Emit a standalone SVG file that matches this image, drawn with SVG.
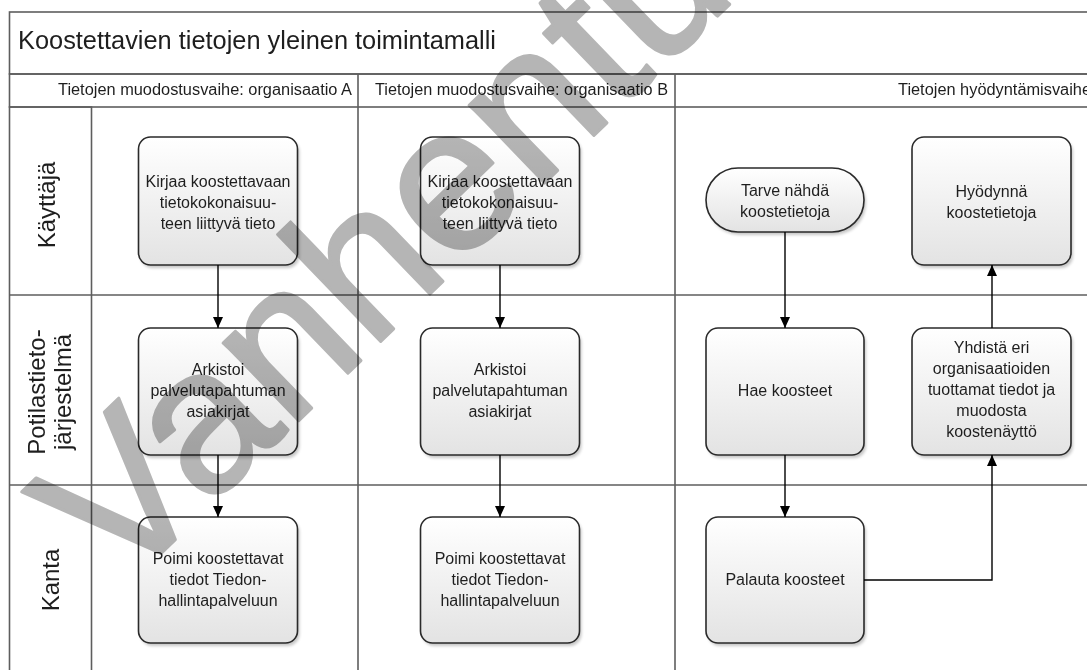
<svg xmlns="http://www.w3.org/2000/svg" width="1087" height="670" viewBox="0 0 1087 670">
<defs>
<linearGradient id="gBox" x1="0" y1="0" x2="0" y2="1">
<stop offset="0" stop-color="#ffffff"/>
<stop offset="1" stop-color="#e3e3e3"/>
</linearGradient>
<linearGradient id="gBar" x1="0" y1="0" x2="0" y2="1">
<stop offset="0" stop-color="#fbfbfb"/>
<stop offset="1" stop-color="#e9e9e9"/>
</linearGradient>
<linearGradient id="gLane" x1="0" y1="0" x2="1" y2="0">
<stop offset="0" stop-color="#ececec"/>
<stop offset="0.5" stop-color="#fbfbfb"/>
<stop offset="1" stop-color="#efefef"/>
</linearGradient>
<filter id="sh" x="-10%" y="-10%" width="130%" height="130%">
<feGaussianBlur stdDeviation="1.5"/>
</filter>
<marker id="arr" viewBox="0 0 11 10" refX="11" refY="5" markerWidth="11" markerHeight="10" markerUnits="userSpaceOnUse" orient="auto">
<path d="M0,0 L11,5 L0,10 z" fill="#000"/>
</marker>
</defs>
<style>
.lane{stroke:#5e5e5e;stroke-width:1.6;fill:none}
.t{font-family:"Liberation Sans",Arial,sans-serif;fill:#1e1e1e}
.bt{font-family:"Liberation Sans",Arial,sans-serif;font-size:16px;fill:#1e1e1e;text-anchor:middle}
.lbl{font-family:"Liberation Sans",Arial,sans-serif;font-size:24px;fill:#1e1e1e;text-anchor:middle}
.box{fill:url(#gBox);stroke:#2a2a2a;stroke-width:1.6}
.shd{fill:#000;opacity:0.22;filter:url(#sh)}
.con{stroke:#000;stroke-width:1.4;fill:none}
.wm{font-family:"Liberation Sans",Arial,sans-serif;font-size:205px;fill:#b5b5b5;stroke:#b5b5b5;stroke-width:3;stroke-linejoin:round;mix-blend-mode:multiply}
</style>
<rect width="1087" height="670" fill="#fff"/>
<g id="pool">
<rect x="9.5" y="12" width="1090" height="62" fill="url(#gBar)" class="lane"/>
<rect x="9.5" y="74" width="1090" height="33" fill="url(#gBar)" class="lane"/>
<rect x="9.5" y="107" width="82" height="580" fill="url(#gLane)" class="lane"/>
<line x1="9.5" y1="295" x2="1087" y2="295" class="lane"/>
<line x1="9.5" y1="485" x2="1087" y2="485" class="lane"/>
<line x1="358" y1="74" x2="358" y2="670" class="lane"/>
<line x1="675" y1="74" x2="675" y2="670" class="lane"/>
<text class="t" x="18" y="49" font-size="25" textLength="478" lengthAdjust="spacingAndGlyphs">Koostettavien tietojen yleinen toimintamalli</text>
<text class="t" x="58" y="95" font-size="16" textLength="294" lengthAdjust="spacingAndGlyphs">Tietojen muodostusvaihe: organisaatio A</text>
<text class="t" x="375" y="95" font-size="16" textLength="293" lengthAdjust="spacingAndGlyphs">Tietojen muodostusvaihe: organisaatio B</text>
<text class="t" x="898" y="95" font-size="16" textLength="193" lengthAdjust="spacingAndGlyphs">Tietojen hyödyntämisvaihe</text>
</g>
<g id="lane-labels">
<text class="lbl" transform="translate(55,205) rotate(-90)">Käyttäjä</text>
<text class="lbl" transform="translate(45,392) rotate(-90)">Potilastieto-</text>
<text class="lbl" transform="translate(71,392) rotate(-90)">järjestelmä</text>
<text class="lbl" transform="translate(59,580) rotate(-90)">Kanta</text>
</g>
<g id="a1">
<rect class="shd" x="140.5" y="140" width="159" height="128" rx="12"/>
<rect class="box" x="138.5" y="137" width="159" height="128" rx="12"/>
<text class="bt" x="218" y="187">Kirjaa koostettavaan</text>
<text class="bt" x="218" y="208">tietokokonaisuu-</text>
<text class="bt" x="218" y="229">teen liittyvä tieto</text>
</g>
<g id="a2">
<rect class="shd" x="140.5" y="331" width="159" height="127" rx="12"/>
<rect class="box" x="138.5" y="328" width="159" height="127" rx="12"/>
<text class="bt" x="218" y="375">Arkistoi</text>
<text class="bt" x="218" y="396">palvelutapahtuman</text>
<text class="bt" x="218" y="417">asiakirjat</text>
</g>
<g id="a3">
<rect class="shd" x="140.5" y="520" width="159" height="126" rx="12"/>
<rect class="box" x="138.5" y="517" width="159" height="126" rx="12"/>
<text class="bt" x="218" y="564">Poimi koostettavat</text>
<text class="bt" x="218" y="585">tiedot Tiedon-</text>
<text class="bt" x="218" y="606">hallintapalveluun</text>
</g>
<g id="b1">
<rect class="shd" x="422.5" y="140" width="159" height="128" rx="12"/>
<rect class="box" x="420.5" y="137" width="159" height="128" rx="12"/>
<text class="bt" x="500" y="187">Kirjaa koostettavaan</text>
<text class="bt" x="500" y="208">tietokokonaisuu-</text>
<text class="bt" x="500" y="229">teen liittyvä tieto</text>
</g>
<g id="b2">
<rect class="shd" x="422.5" y="331" width="159" height="127" rx="12"/>
<rect class="box" x="420.5" y="328" width="159" height="127" rx="12"/>
<text class="bt" x="500" y="375">Arkistoi</text>
<text class="bt" x="500" y="396">palvelutapahtuman</text>
<text class="bt" x="500" y="417">asiakirjat</text>
</g>
<g id="b3">
<rect class="shd" x="422.5" y="520" width="159" height="126" rx="12"/>
<rect class="box" x="420.5" y="517" width="159" height="126" rx="12"/>
<text class="bt" x="500" y="564">Poimi koostettavat</text>
<text class="bt" x="500" y="585">tiedot Tiedon-</text>
<text class="bt" x="500" y="606">hallintapalveluun</text>
</g>
<g id="c-tarve">
<rect class="shd" x="708" y="171" width="158" height="64" rx="32"/>
<rect class="box" x="706" y="168" width="158" height="64" rx="32"/>
<text class="bt" x="785" y="196">Tarve nähdä</text>
<text class="bt" x="785" y="217">koostetietoja</text>
</g>
<g id="c-hae">
<rect class="shd" x="708" y="331" width="158" height="127" rx="12"/>
<rect class="box" x="706" y="328" width="158" height="127" rx="12"/>
<text class="bt" x="785" y="396">Hae koosteet</text>
</g>
<g id="c-palauta">
<rect class="shd" x="708" y="520" width="158" height="126" rx="12"/>
<rect class="box" x="706" y="517" width="158" height="126" rx="12"/>
<text class="bt" x="785" y="585">Palauta koosteet</text>
</g>
<g id="c-hyodynna">
<rect class="shd" x="914" y="140" width="159" height="128" rx="12"/>
<rect class="box" x="912" y="137" width="159" height="128" rx="12"/>
<text class="bt" x="991.5" y="197">Hyödynnä</text>
<text class="bt" x="991.5" y="218">koostetietoja</text>
</g>
<g id="c-yhdista">
<rect class="shd" x="914" y="331" width="159" height="127" rx="12"/>
<rect class="box" x="912" y="328" width="159" height="127" rx="12"/>
<text class="bt" x="991.5" y="353">Yhdistä eri</text>
<text class="bt" x="991.5" y="374">organisaatioiden</text>
<text class="bt" x="991.5" y="395">tuottamat tiedot ja</text>
<text class="bt" x="991.5" y="416">muodosta</text>
<text class="bt" x="991.5" y="437">koostenäyttö</text>
</g>
<g id="connectors">
<path class="con" d="M218,265 V328" marker-end="url(#arr)"/>
<path class="con" d="M218,455 V517" marker-end="url(#arr)"/>
<path class="con" d="M500,265 V328" marker-end="url(#arr)"/>
<path class="con" d="M500,455 V517" marker-end="url(#arr)"/>
<path class="con" d="M785,232 V328" marker-end="url(#arr)"/>
<path class="con" d="M785,455 V517" marker-end="url(#arr)"/>
<path class="con" d="M864,580 H992 V455" marker-end="url(#arr)"/>
<path class="con" d="M992,328 V265" marker-end="url(#arr)"/>
</g>
<text class="wm" transform="translate(119,594) rotate(-44)">Vanhentunut</text>
</svg>
